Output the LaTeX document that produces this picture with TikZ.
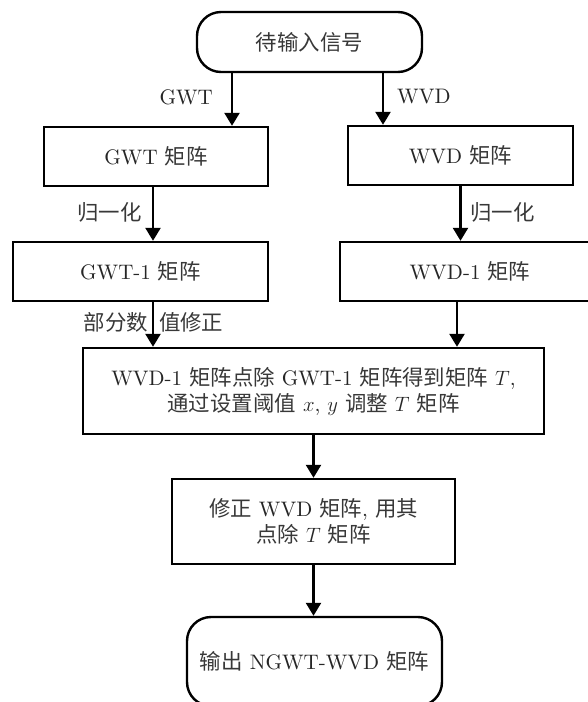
\documentclass[tikz,border=0pt]{standalone}
\usepackage{fontspec}
\setmainfont{lmroman10-regular.otf}[ItalicFont=lmroman10-italic.otf]
\newfontfamily\cjk{Noto Sans CJK SC}[Scale=1.02]
\newcommand\zh[1]{{\cjk\color{black!78}#1}}
\usetikzlibrary{arrows.meta,calc}
\begin{document}
\begin{tikzpicture}[x=1pt,y=-1pt,
  every node/.style={font=\fontsize{21}{26}\selectfont, text=black!85},
  box/.style={draw=black, line width=2.4pt, rectangle, inner sep=0pt, align=center},
  term/.style={draw=black, line width=2.4pt, rectangle, rounded corners=24pt, inner sep=0pt, align=center},
  arr/.style={draw=black, line width=2.4pt, -{Triangle[length=13pt,width=15pt]}},
  lbl/.style={inner sep=0pt}]
\useasboundingbox (0,0) rectangle (587,702);
% nodes
\node[term, minimum width=225pt, minimum height=60pt] (start) at (309.5,42) {\zh{待输入信号}};
\node[box, minimum width=224pt, minimum height=59pt] (gwt) at (156,156.5) {GWT \zh{矩阵}};
\node[box, minimum width=225pt, minimum height=59pt] (wvd) at (460.5,155.5) {WVD \zh{矩阵}};
\node[box, minimum width=255pt, minimum height=59pt] (gwt1) at (140.5,271.5) {GWT-1 \zh{矩阵}};
\node[box, minimum width=260pt, minimum height=59pt] (wvd1) at (470,271.5) {WVD-1 \zh{矩阵}};
\node[box, minimum width=461pt, minimum height=86pt] (big) at (313.5,391)
  {WVD-1 \zh{矩阵点除} GWT-1 \zh{矩阵得到矩阵} $T$,\\ \zh{通过设置阈值} $x$, $y$ \zh{调整} $T$ \zh{矩阵}};
\node[box, minimum width=283pt, minimum height=85pt] (fix) at (313.5,521.5)
  {\zh{修正} WVD \zh{矩阵}, \zh{用其}\\ \zh{点除} $T$ \zh{矩阵}};
\node[term, minimum width=255pt, minimum height=89pt] (end) at (314.5,661.5) {\zh{输出} NGWT-WVD \zh{矩阵}};
% labels
\node[lbl, anchor=east] (lgwt) at (213,97) {GWT};
\node[lbl, anchor=west] (lwvd) at (397,97) {WVD};
\node[lbl, anchor=east] (lnl) at (142,212) {\zh{归一化}};
\node[lbl, anchor=west] (lnr) at (470,212) {\zh{归一化}};
\node[lbl] (lfix) at (153.5,322) {\zh{部分数}\hspace{11pt}\zh{值修正}};
% x positions of connectors
\coordinate (xa) at (232,0);
\coordinate (xb) at (383,0);
\coordinate (xc) at (153,0);
\coordinate (xd) at (457,0);
% connectors
\draw[arr] (start.south -| xa) -- (gwt.north -| xa);
\draw[arr] (start.south -| xb) -- (wvd.north -| xb);
\draw[arr] (gwt.south -| xc) -- (gwt1.north -| xc);
\draw[arr] (wvd.south) -- (wvd.south |- wvd1.north);
\draw[arr] (gwt1.south -| xc) -- (big.north -| xc);
\draw[arr] (wvd1.south -| xd) -- (big.north -| xd);
\draw[arr] (big.south) -- (fix.north);
\draw[arr] (fix.south) -- (fix.south |- end.north);
\end{tikzpicture}
\end{document}
